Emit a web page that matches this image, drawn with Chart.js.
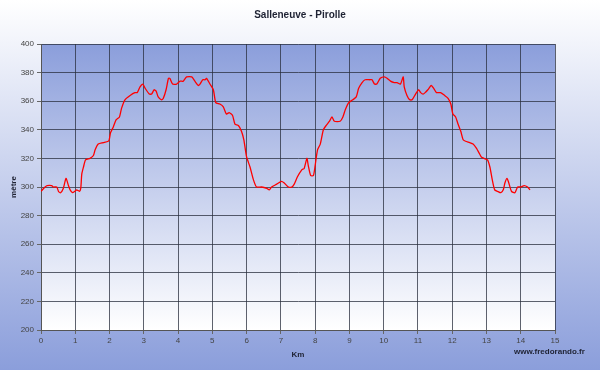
<!DOCTYPE html>
<html>
<head>
<meta charset="utf-8">
<script src="https://cdn.jsdelivr.net/npm/chart.js@4.4.1/dist/chart.umd.min.js"></script>
<style>
 html, body { margin: 0; padding: 0; background: #fff; }
 #wrap { width: 600px; height: 370px; position: relative; }
</style>
</head>
<body>
<div id="wrap"><canvas id="profile" width="600" height="370"></canvas></div>
<script>
const chartTitle = 'Salleneuve - Pirolle';
const xTitle = 'Km';
const yTitle = 'mètre';
const siteName = 'www.fredorando.fr';

// distance (km) and altitude (m)
const distKm = [
 0.0, 0.12, 0.18, 0.31, 0.36, 0.46, 0.51, 0.57, 0.65, 0.73, 0.80, 0.85, 0.92, 0.99,
 1.04, 1.12, 1.16, 1.19, 1.24, 1.30, 1.43, 1.53, 1.58, 1.67, 1.82, 1.96, 1.99,
 2.03, 2.11, 2.19, 2.29, 2.35, 2.45, 2.60, 2.74, 2.81, 2.89, 2.97,
 3.04, 3.16, 3.23, 3.30, 3.36, 3.42, 3.52, 3.57, 3.65, 3.72, 3.76, 3.84, 3.96,
 4.06, 4.15, 4.25, 4.40, 4.49, 4.59, 4.64, 4.72, 4.79, 4.83, 4.93,
 5.03, 5.10, 5.22, 5.32, 5.41, 5.49, 5.59, 5.66, 5.76, 5.85, 5.92,
 6.00, 6.10, 6.20, 6.29, 6.44, 6.59, 6.66, 6.73, 6.88,
 7.02, 7.09, 7.22, 7.32, 7.39, 7.48, 7.61, 7.68, 7.76, 7.80, 7.87, 7.95,
 8.00, 8.07, 8.15, 8.24, 8.32, 8.42, 8.49, 8.56, 8.73, 8.81, 8.88, 8.98,
 9.10, 9.20, 9.27, 9.37, 9.46, 9.59, 9.66, 9.73, 9.80, 9.90,
 10.02, 10.10, 10.20, 10.31, 10.39, 10.49, 10.57, 10.60, 10.68, 10.76, 10.83, 10.93,
 11.02, 11.08, 11.15, 11.21, 11.29, 11.39, 11.46, 11.54, 11.66, 11.78, 11.88, 11.96,
 12.02, 12.10, 12.17, 12.25, 12.32, 12.39, 12.51, 12.61, 12.71, 12.78, 12.85, 12.93,
 13.03, 13.10, 13.17, 13.24, 13.32, 13.42, 13.49, 13.54, 13.60, 13.65, 13.73, 13.83, 13.91,
 14.00, 14.10, 14.20, 14.27
];
const altitude = [
 297, 300, 301, 301, 300, 300, 297, 296, 299, 306, 301, 298, 296, 297,
 298, 297, 299, 309, 314, 319, 320, 322, 326, 330, 331, 332, 333,
 338, 342, 347, 349, 355, 361, 364, 366, 366, 370, 372,
 369, 365, 365, 368, 367, 363, 361, 362, 368, 376, 376, 372, 372,
 374, 374, 377, 377, 374, 371, 372, 375, 375, 376, 372,
 368, 359, 358, 356, 351, 352, 350, 344, 343, 339, 333,
 321, 314, 305, 300, 300, 299, 298, 300, 302,
 304, 303, 300, 300, 302, 307, 312, 313, 320, 315, 308, 308,
 315, 326, 330, 340, 343, 346, 349, 346, 346, 349, 354, 359,
 361, 363, 369, 373, 375, 375, 375, 372, 372, 376,
 377, 376, 374, 373, 373, 372, 377, 370, 364, 361, 361, 365,
 368, 366, 365, 366, 368, 371, 369, 366, 366, 364, 362, 358,
 351, 349, 344, 339, 333, 332, 331, 330, 327, 324, 321, 320,
 319, 314, 305, 298, 297, 296, 298, 303, 306, 303, 297, 296, 300,
 300, 301, 300, 298
];

const xMin = 0, xMax = 15, xStep = 1;
const yMin = 200, yMax = 400, yStep = 20;

const points = distKm.map((d, i) => ({ x: d, y: altitude[i] }));

const blue = 'rgb(139,158,219)';

const backgroundPlugin = {
 id: 'backgrounds',
 beforeDraw(chart) {
  const { ctx, chartArea: a, width, height } = chart;
  ctx.save();
  let g = ctx.createLinearGradient(0, 0, 0, height);
  g.addColorStop(0, '#ffffff');
  g.addColorStop(1, blue);
  ctx.fillStyle = g;
  ctx.fillRect(0, 0, width, height);
  g = ctx.createLinearGradient(0, a.top, 0, a.bottom);
  g.addColorStop(0, blue);
  g.addColorStop(1, '#ffffff');
  ctx.fillStyle = g;
  ctx.fillRect(a.left, a.top, a.right - a.left, a.bottom - a.top);
  ctx.restore();
 },
 afterDraw(chart) {
  const { ctx, chartArea: a } = chart;
  ctx.save();
  ctx.fillStyle = '#1e2233';
  ctx.textAlign = 'center';
  ctx.textBaseline = 'middle';
  ctx.font = 'bold 10px "Liberation Sans", Arial, sans-serif';
  ctx.fillText(chartTitle, 300, 15);
  ctx.font = 'bold 8px "Liberation Sans", Arial, sans-serif';
  ctx.fillText(xTitle, (a.left + a.right) / 2, 355);
  ctx.textAlign = 'left';
  ctx.fillText(siteName, 514, 352);
  ctx.translate(14, (a.top + a.bottom) / 2);
  ctx.rotate(-Math.PI / 2);
  ctx.textAlign = 'center';
  ctx.fillText(yTitle, 0, 0);
  ctx.restore();
 }
};

const tickFont = { family: '"Liberation Sans", Arial, sans-serif', size: 8 };

new Chart(document.getElementById('profile'), {
 type: 'line',
 data: {
  datasets: [{
   data: points,
   borderColor: '#ff0000',
   borderWidth: 1.3,
   pointRadius: 0,
   tension: 0.2,
   fill: false
  }]
 },
 options: {
  responsive: false,
  animation: false,
  layout: { padding: { top: 44, right: 45, left: 0, bottom: 0 } },
  plugins: { legend: { display: false }, tooltip: { enabled: false } },
  scales: {
   x: {
    type: 'linear',
    min: xMin, max: xMax,
    afterFit(s) { s.height = 40; },
    ticks: { stepSize: xStep, color: '#444', font: tickFont, padding: 2, maxRotation: 0 },
    grid: { color: 'rgba(40,45,60,0.75)', tickColor: '#666', tickLength: 4 },
    border: { color: '#555' }
   },
   y: {
    min: yMin, max: yMax,
    afterFit(s) { s.width = 41; },
    ticks: { stepSize: yStep, color: '#444', font: tickFont, padding: 3 },
    grid: { color: 'rgba(40,45,60,0.75)', tickColor: '#666', tickLength: 4 },
    border: { color: '#555' }
   }
  }
 },
 plugins: [backgroundPlugin]
});
</script>
</body>
</html>
